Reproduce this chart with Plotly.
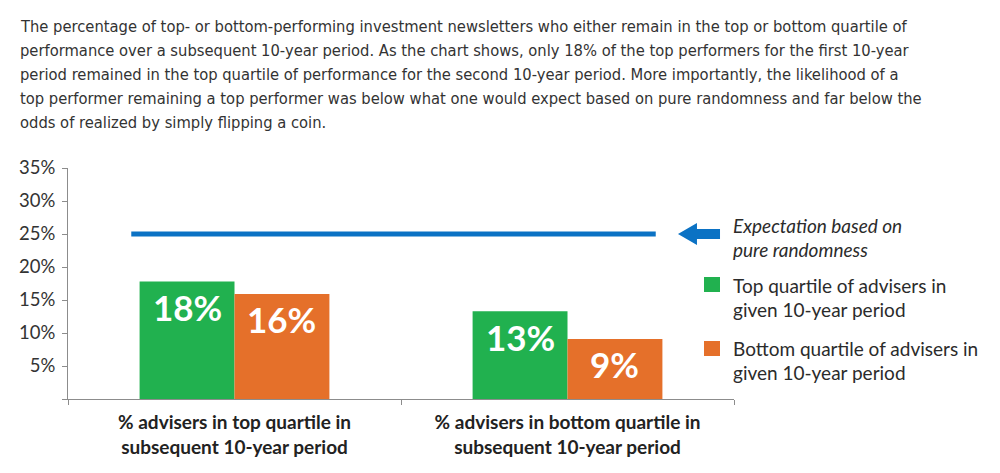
import plotly.graph_objects as go

# ---- data ----
CATEGORIES = ["% advisers in top quartile in<br>subsequent 10-year period",
              "% advisers in bottom quartile in<br>subsequent 10-year period"]
TOP_QUARTILE = [17.8, 13.3]          # green series
BOTTOM_QUARTILE = [15.9, 9.1]        # orange series
TOP_LABELS = ["18%", "13%"]
BOTTOM_LABELS = ["16%", "9%"]
EXPECTATION = 25
SERIES_NAMES = ["Top quartile of advisers in<br>given 10-year period",
                "Bottom quartile of advisers in<br>given 10-year period"]
EXPECT_LINES = ["Expectation based on", "pure randomness"]
TOP_LINES = ["Top quartile of advisers in", "given 10-year period"]
BOTTOM_LINES = ["Bottom quartile of advisers in", "given 10-year period"]
Y_TICKS = [0, 5, 10, 15, 20, 25, 30, 35]
Y_TICKTEXT = ["" if v == 0 else f"{v}%" for v in Y_TICKS]
TITLE_LINES = [
    "The percentage of top- or bottom-performing investment newsletters who either remain in the top or bottom quartile of",
    "performance over a subsequent 10-year period. As the chart shows, only 18% of the top performers for the first 10-year",
    "period remained in the top quartile of performance for the second 10-year period. More importantly, the likelihood of a",
    "top performer remaining a top performer was below what one would expect based on pure randomness and far below the",
    "odds of realized by simply flipping a coin.",
]

GREEN = "#21b14f"
ORANGE = "#e5702a"
BLUE = "#0b72c4"
TXT = "#2b2b2b"
FONT = "Lato"

W, H = 1000, 473
L, R, T, B = 68, 266, 168, 74
PW, PH = W - L - R, H - T - B


def px(xp):
    return (xp - L) / PW


def py(yp):
    return (H - B - yp) / PH


fig = go.Figure()
fig.add_trace(go.Bar(x=CATEGORIES, y=TOP_QUARTILE, name=SERIES_NAMES[0],
                     marker=dict(color=GREEN, line=dict(width=0))))
fig.add_trace(go.Bar(x=CATEGORIES, y=BOTTOM_QUARTILE, name=SERIES_NAMES[1],
                     marker=dict(color=ORANGE, line=dict(width=0))))

annotations = []
half_bar = PW / 2 * (1 - 0.43) / 2 / 2
for cat, v, lab in zip(CATEGORIES, TOP_QUARTILE, TOP_LABELS):
    annotations.append(dict(x=cat, y=v, xref="x", yref="y", text=f"<b>{lab}</b>",
                            showarrow=False, xshift=-half_bar, yshift=-25.5, yanchor="middle",
                            font=dict(family=FONT, size=35, color="white")))
for cat, v, lab in zip(CATEGORIES, BOTTOM_QUARTILE, BOTTOM_LABELS):
    annotations.append(dict(x=cat, y=v, xref="x", yref="y", text=f"<b>{lab}</b>",
                            showarrow=False, xshift=half_bar, yshift=-25, yanchor="middle",
                            font=dict(family=FONT, size=35, color="white")))

# title lines
for i, line in enumerate(TITLE_LINES):
    annotations.append(dict(x=px(18), y=py(26 + 24.2 * i), xref="paper", yref="paper",
                            xanchor="left", yanchor="middle", showarrow=False, text=line,
                            font=dict(family="DejaVu Sans Condensed", size=16.4, color="#333333")))

# legend texts
LEG_SIZE = 19
for i, line in enumerate(EXPECT_LINES):
    annotations.append(dict(x=px(731), y=py(225 + 24 * i), xref="paper", yref="paper",
                            xanchor="left", yanchor="middle", showarrow=False, text=f"<i>{line}</i>",
                            font=dict(family=FONT, size=LEG_SIZE, color=TXT)))
for i, line in enumerate(TOP_LINES):
    annotations.append(dict(x=px(731), y=py(285 + 24.5 * i), xref="paper", yref="paper",
                            xanchor="left", yanchor="middle", showarrow=False, text=line,
                            font=dict(family=FONT, size=LEG_SIZE, color=TXT)))
for i, line in enumerate(BOTTOM_LINES):
    annotations.append(dict(x=px(731), y=py(348 + 24.5 * i), xref="paper", yref="paper",
                            xanchor="left", yanchor="middle", showarrow=False, text=line,
                            font=dict(family=FONT, size=LEG_SIZE, color=TXT)))

shapes = []
# expectation line
shapes.append(dict(type="line", xref="x", yref="y", x0=-0.31, x1=1.265,
                   y0=EXPECTATION, y1=EXPECTATION, line=dict(color=BLUE, width=5)))
# arrow
pts = [(678, 234), (697, 223), (697, 229), (720, 229), (720, 239), (697, 239), (697, 245)]
path = "M " + " L ".join(f"{px(a):.4f},{py(b):.4f}" for a, b in pts) + " Z"
shapes.append(dict(type="path", xref="paper", yref="paper", path=path,
                   fillcolor=BLUE, line=dict(width=0)))
# legend squares
for y0, col in [(277, GREEN), (341, ORANGE)]:
    shapes.append(dict(type="rect", xref="paper", yref="paper", x0=px(704), x1=px(720),
                       y0=py(y0 + 15), y1=py(y0), fillcolor=col, line=dict(width=0)))

fig.update_layout(
    width=W, height=H,
    margin=dict(l=L, r=R, t=T, b=B, pad=0),
    paper_bgcolor="white", plot_bgcolor="white",
    barmode="group", bargap=0.43, bargroupgap=0,
    showlegend=False,
    annotations=annotations, shapes=shapes,
    font=dict(family=FONT, color=TXT),
)
fig.update_xaxes(showline=True, linecolor="#8c8c8c", linewidth=1, ticks="outside",
                 tickson="boundaries", ticklen=5, tickcolor="#8c8c8c", showgrid=False,
                 ticklabelstandoff=6,
                 tickfont=dict(family=FONT, size=19, color="#222222", weight="bold"),
                 zeroline=False)
fig.update_yaxes(range=[0, 35], tickvals=Y_TICKS, ticktext=Y_TICKTEXT, showline=True,
                 linecolor="#8c8c8c", linewidth=1, ticks="outside", ticklen=5,
                 tickcolor="#8c8c8c", showgrid=False, zeroline=False,
                 ticklabelstandoff=3,
                 tickfont=dict(family=FONT, size=18.5, color="#333333"))

fig.write_html("out.html", config={"displayModeBar": False},
               post_script="document.body.style.margin='0';document.body.style.overflow='hidden';")
